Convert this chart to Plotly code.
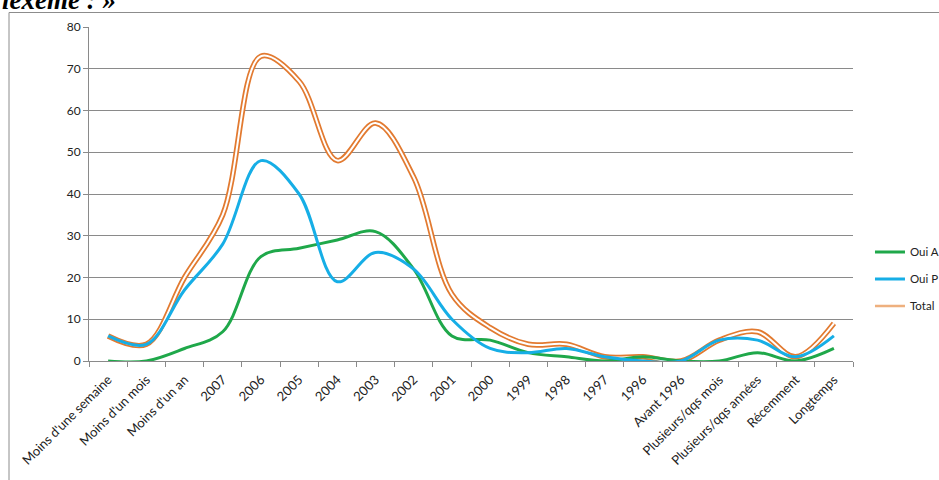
import plotly.graph_objects as go

# Period categories along the x axis
categories = [
    "Moins d'une semaine", "Moins d'un mois", "Moins d'un an",
    "2007", "2006", "2005", "2004", "2003", "2002", "2001", "2000",
    "1999", "1998", "1997", "1996", "Avant 1996",
    "Plusieurs/qqs mois", "Plusieurs/qqs années", "Récemment", "Longtemps",
]

# Answer counts per period
oui_a = [0, 0, 3, 7, 25, 27, 29, 31, 22, 6, 5, 2, 1, 0, 1, 0, 0, 2, 0, 3]
oui_p = [6, 4, 17, 28, 48, 40, 19, 26, 22, 10, 3, 2, 3, 1, 0, 0, 5, 5, 1, 6]
total = [a + p for a, p in zip(oui_a, oui_p)]

GREEN = "#1fa84a"
BLUE = "#16aee6"
ORANGE = "#e27a30"
ORANGE_LEGEND = "#eeb07e"
GRID = "#8a8a8a"
FONT = "Lato, 'Liberation Sans', sans-serif"

spline = dict(shape="spline", smoothing=1.0)

fig = go.Figure()

# "Total" as a double line: a wide orange stroke with a white core
fig.add_trace(go.Scatter(x=categories, y=total, mode="lines", showlegend=False,
                         line=dict(color=ORANGE, width=5.5, **spline), hoverinfo="skip"))
fig.add_trace(go.Scatter(x=categories, y=total, mode="lines", showlegend=False,
                         line=dict(color="white", width=2, **spline), hoverinfo="skip"))

fig.add_trace(go.Scatter(x=categories, y=oui_a, mode="lines", name="Oui A",
                         legendgroup="a", line=dict(color=GREEN, width=3, **spline)))
fig.add_trace(go.Scatter(x=categories, y=oui_p, mode="lines", name="Oui P",
                         legendgroup="p", line=dict(color=BLUE, width=3, **spline)))
# legend sample for the double-line series
fig.add_trace(go.Scatter(x=[None], y=[None], mode="lines", name="Total",
                         legendgroup="t", line=dict(color=ORANGE_LEGEND, width=2.5)))

fig.update_layout(
    width=939, height=480,
    margin=dict(l=89, r=86, t=27, b=119, autoexpand=False),
    paper_bgcolor="white", plot_bgcolor="white",
    font=dict(family=FONT, size=11, color="#222222"),
    showlegend=True,
    legend=dict(xref="container", yref="container",
                x=0.9265, xanchor="left", y=0.419, yanchor="middle",
                font=dict(family=FONT, size=11.5, color="#222222"),
                tracegroupgap=8, bgcolor="rgba(0,0,0,0)", itemwidth=30),
    xaxis=dict(
        type="category", range=[-0.5, len(categories) - 0.5],
        showgrid=False, zeroline=False,
        showline=True, linecolor=GRID, linewidth=1,
        ticks="outside", ticklen=5, tickcolor=GRID, tickson="boundaries",
        ticklabelstandoff=5,
        tickangle=-45, tickfont=dict(family=FONT, size=13, color="#222222"),
    ),
    yaxis=dict(
        range=[0, 80], dtick=10, tick0=0,
        showgrid=True, gridcolor=GRID, gridwidth=1,
        zeroline=False,
        showline=True, linecolor=GRID, linewidth=1,
        ticks="outside", ticklen=5, tickcolor=GRID,
        tickfont=dict(family=FONT, size=12, color="#222222"),
    ),
    shapes=[
        # chart frame
        dict(type="rect", xref="paper", yref="paper",
             x0=-0.1047, x1=1.2, y0=-0.5, y1=1.0434,
             line=dict(color="#8c8c8c", width=1), fillcolor="rgba(0,0,0,0)",
             layer="below"),
    ],
    annotations=[
        dict(text="<b><i>lexème : »</i></b>", xref="paper", yref="paper",
             x=-0.1165, y=1.029, xanchor="left", yanchor="bottom",
             showarrow=False,
             font=dict(family="'Liberation Serif', 'DejaVu Serif', serif", size=27,
                       color="#000000")),
    ],
)

fig.write_html("out.html")
